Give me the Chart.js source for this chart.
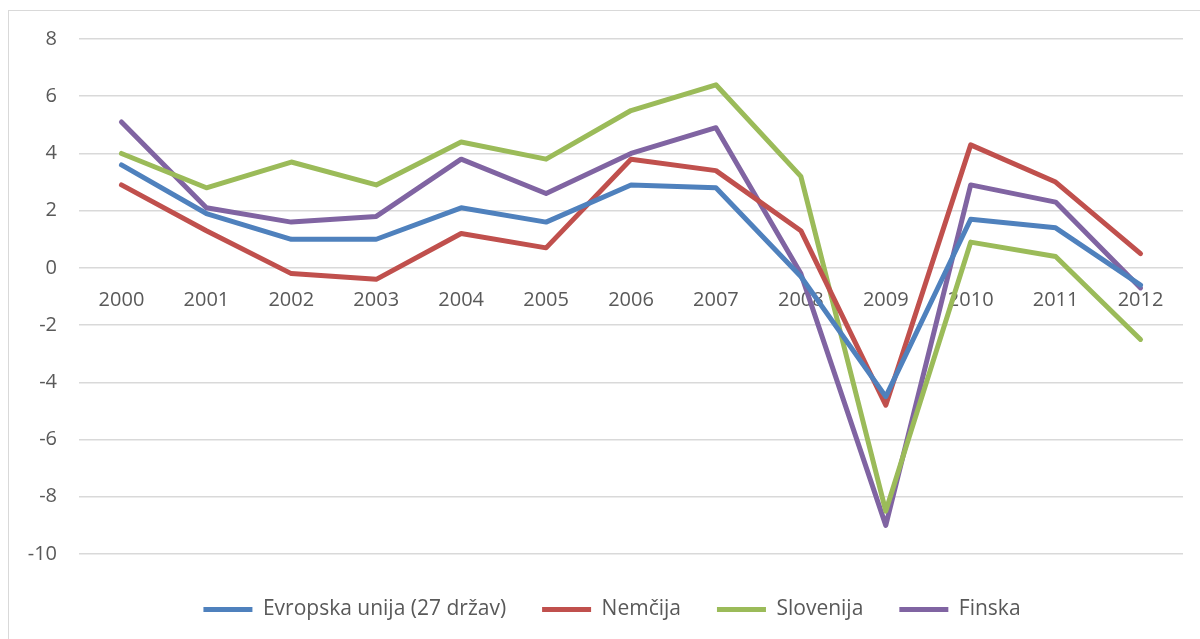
<!DOCTYPE html>
<html>
<head>
<meta charset="utf-8">
<script src="https://cdn.jsdelivr.net/npm/chart.js@4"></script>
<style>
    html, body { margin: 0; padding: 0; background: #fff; overflow: hidden; }
    #frame {
        position: absolute; left: 8px; top: 10px;
        width: 1300px; height: 700px;
        border: 1px solid #d9d9d9;
    }
    #wrap { position: absolute; left: 0; top: 0; width: 1200px; height: 639px; }
</style>
</head>
<body>
<div id="frame"></div>
<div id="wrap"><canvas id="chartRast" width="1200" height="639"></canvas></div>
<script>
const years = ["2000", "2001", "2002", "2003", "2004", "2005", "2006", "2007", "2008", "2009", "2010", "2011", "2012"];

const evropskaUnija = [3.6, 1.9, 1.0, 1.0, 2.1, 1.6, 2.9, 2.8, -0.3, -4.5, 1.7, 1.4, -0.6];
const nemcija = [2.9, 1.3, -0.2, -0.4, 1.2, 0.7, 3.8, 3.4, 1.3, -4.8, 4.3, 3.0, 0.5];
const slovenija = [4.0, 2.8, 3.7, 2.9, 4.4, 3.8, 5.5, 6.4, 3.2, -8.5, 0.9, 0.4, -2.5];
const finska = [5.1, 2.1, 1.6, 1.8, 3.8, 2.6, 4.0, 4.9, -0.2, -9.0, 2.9, 2.3, -0.7];

const seriesNames = ["Evropska unija (27 držav)", "Nemčija", "Slovenija", "Finska"];
const yTicks = [-10, -8, -6, -4, -2, 0, 2, 4, 6, 8];

const fontFamily = "'Open Sans', 'Noto Sans', sans-serif";
const textColor = "#595959";

const makeLine = (label, data, color) => ({
    label,
    data,
    borderColor: color,
    backgroundColor: color,
    borderWidth: 5,
    borderCapStyle: "round",
    borderJoinStyle: "round",
    pointRadius: 0,
    pointHoverRadius: 0,
    pointStyle: "line",
    tension: 0,
    fill: false,
});

// legenda je v originalu malo bolj levo kot sredina risalne povrsine
const legendShift = {
    id: "legendShift",
    afterLayout(chart) {
        chart.legend.left -= 19;
        chart.legend.right -= 19;
    },
};

document.addEventListener("DOMContentLoaded", () => {
    const ctx = document.getElementById("chartRast").getContext("2d");

    new Chart(ctx, {
        type: "line",
        data: {
            labels: years,
            datasets: [
                makeLine(seriesNames[0], evropskaUnija, "#4F81BD"),
                makeLine(seriesNames[1], nemcija, "#C0504D"),
                makeLine(seriesNames[2], slovenija, "#9BBB59"),
                makeLine(seriesNames[3], finska, "#8064A2"),
            ],
        },
        plugins: [legendShift],
        options: {
            responsive: false,
            animation: false,
            layout: {
                padding: { left: 0, right: 17, top: 39, bottom: 9 },
            },
            scales: {
                x: {
                    position: { y: 0 },
                    offset: true,
                    grid: { display: false, drawTicks: false },
                    border: { display: false },
                    ticks: {
                        color: textColor,
                        padding: 20,
                        maxRotation: 0,
                        autoSkip: false,
                        font: { family: fontFamily, size: 20 },
                    },
                    afterFit: (axis) => {
                        axis.height = 0;
                    },
                },
                y: {
                    min: -10,
                    max: 8,
                    afterBuildTicks: (axis) => {
                        axis.ticks = yTicks.map((v) => ({ value: v }));
                    },
                    grid: {
                        color: "#d9d9d9",
                        lineWidth: 1.5,
                        drawTicks: false,
                    },
                    border: { display: false },
                    ticks: {
                        color: textColor,
                        padding: 22,
                        font: { family: fontFamily, size: 20 },
                    },
                    afterFit: (axis) => {
                        axis.width = 79;
                    },
                },
            },
            plugins: {
                legend: {
                    position: "bottom",
                    fullSize: false,
                    title: {
                        display: true,
                        text: "",
                        padding: 0,
                        font: { size: 7.5, lineHeight: 1.2 },
                    },
                    labels: {
                        usePointStyle: true,
                        pointStyle: "line",
                        pointStyleWidth: 49,
                        padding: 36,
                        color: textColor,
                        font: { family: fontFamily, size: 21 },
                    },
                },
                tooltip: { enabled: false },
            },
        },
    });
});
</script>
</body>
</html>
